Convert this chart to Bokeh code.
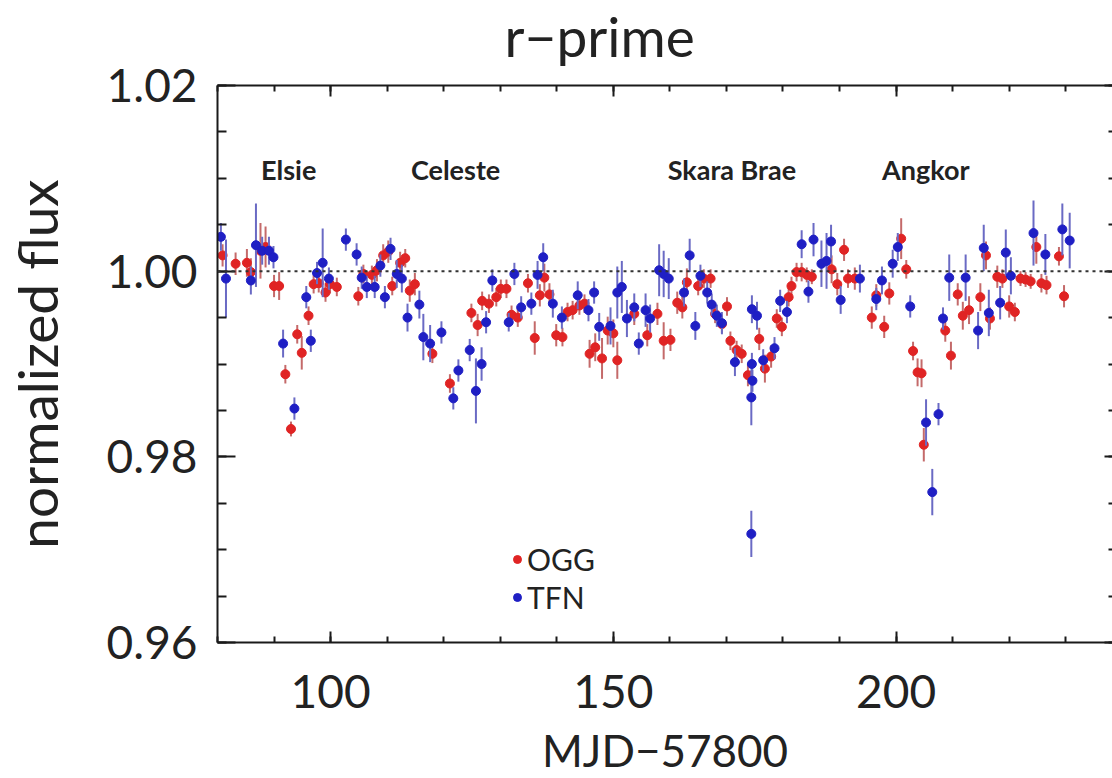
from bokeh.plotting import figure
from bokeh.models import (Range1d, LinearAxis, SingleIntervalTicker, Span, Legend,
                          LegendItem, ColumnDataSource, PrintfTickFormatter)
from bokeh.core.properties import value
from bokeh.embed import file_html
from bokeh.resources import INLINE

# ---------------- data ----------------
ogg_mjd = [80.9, 83.2, 85.2, 85.9, 87.6, 88.5, 90.0, 90.9, 92.0, 93.0, 94.1, 94.9, 96.1, 97.0,
           97.9, 99.1, 99.9, 101.1, 104.9, 105.8, 107.3, 108.2, 109.3, 110.2, 110.9, 112.3,
           113.2, 114.0, 114.9, 118.0, 121.1, 124.9, 126.0, 126.8, 128.0, 129.3, 130.1, 131.1,
           132.0, 133.1, 134.9, 136.1, 137.0, 137.8, 138.7, 139.9, 141.0, 141.9, 142.8, 144.0,
           144.9, 145.8, 146.8, 148.0, 149.0, 150.0, 150.7, 153.7, 156.0, 157.8, 158.9, 160.1,
           161.3, 162.2, 163.0, 165.0, 166.0, 167.2, 168.0, 169.2, 170.1, 170.7, 171.8, 172.7,
           173.8, 175.8, 176.8, 177.9, 178.9, 179.8, 181.0, 181.5, 182.4, 183.3, 184.2, 185.1,
           188.6, 189.6, 190.8, 191.5, 192.7, 195.7, 196.5, 197.9, 198.8, 200.9, 201.8, 203.0,
           203.8, 204.5, 204.9, 208.7, 209.7, 210.9, 211.8, 212.9, 214.9, 215.9, 216.6, 217.9,
           218.8, 220.0, 221.0, 222.0, 222.9, 223.8, 224.8, 225.7, 226.6, 228.8, 229.7]
ogg_flux = [1.0017, 1.0008, 1.0009, 0.9999, 1.0022, 1.0026, 0.9984, 0.9984, 0.9889, 0.9830,
            0.9932, 0.9912, 0.9952, 0.9986, 0.9987, 0.9977, 0.9986, 0.9983, 0.9973, 0.9997,
            0.9996, 1.0001, 1.0017, 1.0021, 0.9984, 1.0009, 1.0014, 0.9979, 0.9986, 0.9911,
            0.9879, 0.9955, 0.9942, 0.9968, 0.9965, 0.9972, 0.9981, 0.9981, 0.9953, 0.9950,
            0.9987, 0.9928, 0.9974, 0.9993, 0.9975, 0.9931, 0.9929, 0.9956, 0.9958, 0.9963,
            0.9965, 0.9911, 0.9918, 0.9906, 0.9936, 0.9933, 0.9904, 0.9954, 0.9931, 0.9954,
            0.9925, 0.9926, 0.9966, 0.9961, 0.9988, 0.9984, 0.9992, 0.9992, 0.9954, 0.9943,
            0.9962, 0.9925, 0.9915, 0.9911, 0.9888, 0.9927, 0.9895, 0.9908, 0.9949, 0.9940,
            0.9972, 0.9984, 0.9999, 0.9999, 0.9996, 0.9994, 1.0002, 0.9986, 1.0023, 0.9992,
            0.9992, 0.9950, 0.9974, 0.9940, 0.9976, 1.0035, 1.0002, 0.9914, 0.9891, 0.9890,
            0.9813, 0.9936, 0.9909, 0.9975, 0.9952, 0.9958, 0.9972, 1.0017, 0.9949, 0.9994,
            0.9992, 0.9962, 0.9956, 0.9992, 0.9991, 0.9989, 1.0026, 0.9987, 0.9985, 1.0016,
            0.9973]
ogg_err = [0.0012, 0.0012, 0.0015, 0.0015, 0.0030, 0.0022, 0.0012, 0.0015, 0.0010, 0.0008,
           0.0010, 0.0018, 0.0010, 0.0010, 0.0010, 0.0010, 0.0010, 0.0010, 0.0010, 0.0010,
           0.0010, 0.0012, 0.0012, 0.0012, 0.0010, 0.0012, 0.0010, 0.0012, 0.0012, 0.0010,
           0.0010, 0.0010, 0.0012, 0.0010, 0.0010, 0.0010, 0.0010, 0.0010, 0.0010, 0.0010,
           0.0010, 0.0018, 0.0012, 0.0015, 0.0012, 0.0012, 0.0010, 0.0010, 0.0010, 0.0010,
           0.0010, 0.0015, 0.0015, 0.0022, 0.0015, 0.0015, 0.0020, 0.0012, 0.0012, 0.0012,
           0.0020, 0.0012, 0.0012, 0.0012, 0.0015, 0.0010, 0.0010, 0.0010, 0.0010, 0.0010,
           0.0010, 0.0010, 0.0010, 0.0010, 0.0012, 0.0012, 0.0015, 0.0012, 0.0010, 0.0010,
           0.0010, 0.0010, 0.0010, 0.0010, 0.0008, 0.0008, 0.0015, 0.0012, 0.0012, 0.0010,
           0.0012, 0.0012, 0.0012, 0.0012, 0.0012, 0.0022, 0.0010, 0.0010, 0.0015, 0.0015,
           0.0018, 0.0012, 0.0015, 0.0012, 0.0015, 0.0015, 0.0015, 0.0015, 0.0012, 0.0012,
           0.0010, 0.0012, 0.0010, 0.0008, 0.0008, 0.0008, 0.0018, 0.0010, 0.0010, 0.0010,
           0.0012]

tfn_mjd = [80.6, 81.5, 85.9, 86.8, 87.9, 89.1, 89.9, 91.6, 93.6, 95.7, 96.5, 97.6, 98.6, 99.7,
           102.7, 104.6, 105.5, 106.4, 107.8, 108.8, 109.6, 110.6, 111.7, 112.6, 113.6, 115.7,
           116.4, 117.6, 119.6, 121.7, 122.6, 124.6, 125.7, 126.7, 127.5, 128.6, 131.5, 132.5,
           133.7, 135.5, 136.6, 137.6, 139.3, 140.9, 143.7, 145.6, 146.6, 147.5, 149.5, 150.7,
           151.5, 152.4, 153.7, 154.5, 155.7, 156.5, 158.1, 158.9, 159.8, 162.5, 163.5, 164.5,
           165.4, 166.6, 167.4, 168.3, 169.2, 171.5, 174.5, 175.4, 174.5, 174.6, 174.4, 174.4,
           176.5, 178.5, 179.5, 180.7, 183.3, 184.5, 185.4, 186.8, 187.7, 188.5, 190.2, 193.6,
           196.5, 197.5, 199.4, 200.3, 202.5, 205.3, 206.4, 207.5, 208.3, 209.4, 212.3, 214.5,
           215.5, 216.4, 218.4, 219.4, 220.3, 224.3, 226.4, 229.4, 230.7]
tfn_flux = [1.0037, 0.9992, 0.9990, 1.0028, 1.0022, 1.0022, 1.0015, 0.9922, 0.9852, 0.9972,
            0.9925, 0.9998, 1.0009, 0.9992, 1.0034, 1.0018, 0.9993, 0.9983, 0.9983, 1.0006,
            0.9972, 1.0024, 0.9997, 0.9992, 0.9950, 0.9964, 0.9929, 0.9922, 0.9934, 0.9863,
            0.9893, 0.9915, 0.9871, 0.9900, 0.9945, 0.9990, 0.9945, 0.9997, 0.9961, 0.9965,
            0.9996, 1.0015, 0.9965, 0.9950, 0.9974, 0.9958, 0.9977, 0.9940, 0.9941, 0.9977,
            0.9983, 0.9949, 0.9961, 0.9922, 0.9958, 0.9949, 1.0001, 0.9997, 0.9992, 0.9977,
            1.0017, 0.9941, 0.9995, 0.9977, 0.9964, 0.9952, 0.9944, 0.9902, 0.9959, 0.9952,
            0.9900, 0.9882, 0.9864, 0.9717, 0.9904, 0.9917, 0.9968, 0.9956, 1.0029, 0.9978,
            1.0034, 1.0008, 1.0011, 1.0032, 0.9969, 0.9992, 0.9970, 0.9990, 1.0008, 1.0026,
            0.9962, 0.9837, 0.9762, 0.9846, 0.9949, 0.9993, 0.9993, 0.9936, 1.0025, 0.9955,
            0.9966, 1.0020, 0.9995, 1.0041, 1.0018, 1.0045, 1.0033]
tfn_err = [0.0015, 0.0042, 0.0015, 0.0045, 0.0015, 0.0015, 0.0012, 0.0015, 0.0012, 0.0012,
           0.0012, 0.0012, 0.0037, 0.0012, 0.0012, 0.0012, 0.0012, 0.0012, 0.0012, 0.0012,
           0.0012, 0.0012, 0.0015, 0.0015, 0.0015, 0.0015, 0.0025, 0.0020, 0.0012, 0.0012,
           0.0012, 0.0012, 0.0035, 0.0018, 0.0012, 0.0012, 0.0010, 0.0012, 0.0012, 0.0012,
           0.0015, 0.0015, 0.0015, 0.0012, 0.0015, 0.0012, 0.0012, 0.0015, 0.0020, 0.0028,
           0.0028, 0.0020, 0.0015, 0.0012, 0.0018, 0.0015, 0.0028, 0.0025, 0.0022, 0.0015,
           0.0018, 0.0015, 0.0012, 0.0012, 0.0012, 0.0012, 0.0012, 0.0015, 0.0015, 0.0015,
           0.0012, 0.0012, 0.0030, 0.0025, 0.0012, 0.0012, 0.0012, 0.0012, 0.0015, 0.0012,
           0.0018, 0.0025, 0.0030, 0.0018, 0.0015, 0.0015, 0.0012, 0.0015, 0.0015, 0.0015,
           0.0012, 0.0025, 0.0025, 0.0012, 0.0012, 0.0025, 0.0025, 0.0020, 0.0025, 0.0025,
           0.0018, 0.0025, 0.0020, 0.0035, 0.0022, 0.0028, 0.0030]

event_names = ["Elsie", "Celeste", "Skara Brae", "Angkor"]
event_mjd = [87.7, 114.2, 159.6, 197.5]
event_flux = [1.0110, 1.0110, 1.0110, 1.0110]

series_names = ["OGG", "TFN"]
x_label = "MJD\u221257800"
y_label = "normalized flux"
title_text = "r\u2212prime"

# ---------------- figure ----------------
FONT = "Lato"
TXT = "#222222"
p = figure(width=1112, height=778, output_backend="svg", toolbar_location=None,
           x_range=Range1d(80, 238.27), y_range=Range1d(0.96, 1.02),
           min_border_left=213, min_border_right=0, min_border_top=85, min_border_bottom=135,
           x_axis_location=None, y_axis_location=None)
p.outline_line_color = None
p.xgrid.visible = False
p.ygrid.visible = False
p.background_fill_color = "white"
p.border_fill_color = "white"

p.title.text = title_text
p.title.text_font = FONT
p.title.text_font_size = "55px"
p.title.text_font_style = "normal"
p.title.text_color = TXT
p.title.align = "left"
p.title.offset = 287
p.title.standoff = 0


def style_axis(ax, tick_in, minor_in, labels=True):
    ax.axis_line_color = "#1a1a1a"
    ax.axis_line_width = 2
    ax.major_tick_line_color = "#1a1a1a"
    ax.major_tick_line_width = 2
    ax.minor_tick_line_color = "#1a1a1a"
    ax.minor_tick_line_width = 2
    ax.major_tick_in = tick_in
    ax.major_tick_out = 0
    ax.minor_tick_in = minor_in
    ax.minor_tick_out = 0
    if labels:
        ax.major_label_text_font = FONT
        ax.major_label_text_font_size = "46px"
        ax.major_label_text_color = TXT
        ax.axis_label_text_font = FONT
        ax.axis_label_text_font_style = "normal"
        ax.axis_label_text_color = TXT
    else:
        ax.major_label_text_font_size = "0px"
        ax.major_label_text_color = None
        ax.major_label_standoff = 0


xticker = SingleIntervalTicker(interval=50, num_minor_ticks=5)
yticker = SingleIntervalTicker(interval=0.02, num_minor_ticks=4)

xb = LinearAxis(ticker=xticker, axis_label=x_label)
style_axis(xb, 11, 6)
xb.major_label_standoff = 32
xb.axis_label_text_font_size = "44px"
xb.axis_label_standoff = 13
p.add_layout(xb, "below")

# top axis: inward ticks only
xt = LinearAxis(ticker=xticker)
style_axis(xt, 11, 6, labels=False)
p.add_layout(xt, "above")

# invisible spacer between the top axis and the title
spacer = LinearAxis(ticker=xticker)
style_axis(spacer, 0, 0, labels=False)
spacer.axis_line_color = None
spacer.major_tick_line_color = None
spacer.minor_tick_line_color = None
spacer.major_tick_out = 17
p.add_layout(spacer, "above")

yl = LinearAxis(ticker=yticker, axis_label=y_label,
                formatter=PrintfTickFormatter(format="%.2f"))
style_axis(yl, 18, 9)
yl.major_label_standoff = 20
yl.axis_label_text_font_size = "55px"
yl.axis_label_standoff = 34
p.add_layout(yl, "left")

yr = LinearAxis(ticker=yticker)
style_axis(yr, 8, 4, labels=False)
yr.axis_line_color = None
p.add_layout(yr, "right")

# reference line at 1.00
p.add_layout(Span(location=1.0, dimension="width", line_color="#333333",
                  line_width=2, line_dash="3 4"))

RED, BLUE = "#e02424", "#1f1fc4"
RED_BAR, BLUE_BAR = "#c46a6a", "#6a6ac4"

src_o = ColumnDataSource(dict(x=ogg_mjd, y=ogg_flux,
                              lo=[f - e for f, e in zip(ogg_flux, ogg_err)],
                              hi=[f + e for f, e in zip(ogg_flux, ogg_err)]))
src_t = ColumnDataSource(dict(x=tfn_mjd, y=tfn_flux,
                              lo=[f - e for f, e in zip(tfn_flux, tfn_err)],
                              hi=[f + e for f, e in zip(tfn_flux, tfn_err)]))

p.segment(x0="x", x1="x", y0="lo", y1="hi", source=src_o, line_color=RED_BAR, line_width=2)
r_o = p.scatter("x", "y", source=src_o, size=9, fill_color=RED, line_color=RED, line_width=1)
p.segment(x0="x", x1="x", y0="lo", y1="hi", source=src_t, line_color=BLUE_BAR, line_width=2)
r_t = p.scatter("x", "y", source=src_t, size=9, fill_color=BLUE, line_color=BLUE, line_width=1)

# event names
p.text(x=event_mjd, y=event_flux, text=event_names, text_font=value(FONT),
       text_font_size="27px", text_font_style="bold", text_color=TXT,
       text_align="left", text_baseline="alphabetic")

legend = Legend(items=[LegendItem(label=series_names[0], renderers=[r_o]),
                       LegendItem(label=series_names[1], renderers=[r_t])],
                location=(290, 27), padding=0, margin=0, spacing=2,
                glyph_width=20, glyph_height=22, label_standoff=0,
                label_text_font=FONT, label_text_font_size="30px",
                label_text_color=TXT,
                border_line_color=None, background_fill_alpha=0)
p.add_layout(legend, "center")

open("out.html", "w").write(file_html(p, INLINE))
